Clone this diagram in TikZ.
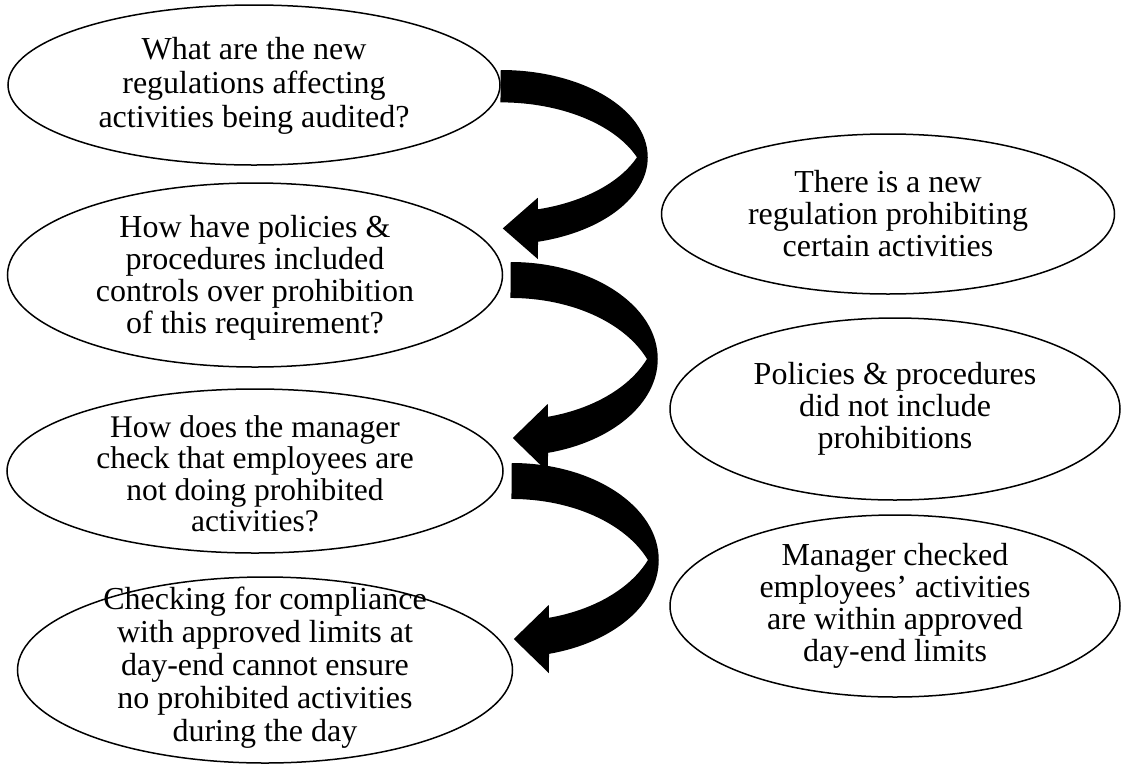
\documentclass[tikz,border=0pt]{standalone}
\usepackage{fontspec}
\setmainfont{Liberation Serif}
\usetikzlibrary{shapes.geometric,calc}
\tikzset{
  ell/.style={draw=black, line width=1.5pt, ellipse, inner sep=0pt, fill=white},
  txt/.style={align=center, inner sep=0pt, font=\fontsize{32}{32}\selectfont},
  bigarrow/.pic={
    \fill[black] (0,0) arc[start angle=-90, end angle=75.3, x radius=147, y radius=97]
      -- (37,210) -- (2,176) -- (37,142) -- (37,154.8)
      arc[start angle=75.3, end angle=21.78, x radius=147, y radius=97]
      arc[start angle=-21.78, end angle=-90, x radius=147, y radius=97]
      -- cycle;
  }
}
\begin{document}
\begin{tikzpicture}[x=1pt,y=-1pt]
\useasboundingbox (0,0) rectangle (1122,764);
% left column
\node[ell, minimum width=492pt, minimum height=160pt] (q1) at (254,85) {};
\node[ell, minimum width=495pt, minimum height=184pt] (q2) at (255,275) {};
\node[ell, minimum width=496pt, minimum height=164pt] (q3) at (255,471) {};
\node[ell, minimum width=495pt, minimum height=186pt] (q4) at (265,670) {};
% right column
\node[ell, minimum width=453pt, minimum height=160pt] (r1) at (888,214) {};
\node[ell, minimum width=450pt, minimum height=182pt] (r2) at (895,409) {};
\node[ell, minimum width=450pt, minimum height=182pt] (r3) at (895,606) {};
% curved block arrows
\pic[yscale=0.9] at ([yshift=15pt]q1.east) {bigarrow};
\pic at ([xshift=7.5pt,yshift=13pt]q2.east) {bigarrow};
\pic at ([xshift=8pt,yshift=8pt]q3.east) {bigarrow};
% texts
\node[txt, font=\fontsize{32}{34}\selectfont] (t1) at ([yshift=-1pt]q1) {What are the new\\regulations affecting\\activities being audited?};
\node[txt] (t2) at ([yshift=-3pt]q2) {How have policies \&\\procedures included\\controls over prohibition\\of this requirement?};
\node[txt, font=\fontsize{31.5}{31.5}\selectfont] (t3) at ([yshift=-3pt]q3) {How does the manager\\check that employees are\\not doing prohibited\\activities?};
\node[txt, font=\fontsize{32}{33}\selectfont] (t4) at ([yshift=2pt]q4) {Checking for compliance\\with approved limits at\\day-end cannot ensure\\no prohibited activities\\during the day};
\node[txt] (u1) at (r1) {There is a new\\regulation prohibiting\\certain activities};
\node[txt] (u2) at (r2) {Policies \& procedures\\did not include\\prohibitions};
\node[txt] (u3) at (r3) {Manager checked\\employees’ activities\\are within approved\\day-end limits};
\end{tikzpicture}
\end{document}
